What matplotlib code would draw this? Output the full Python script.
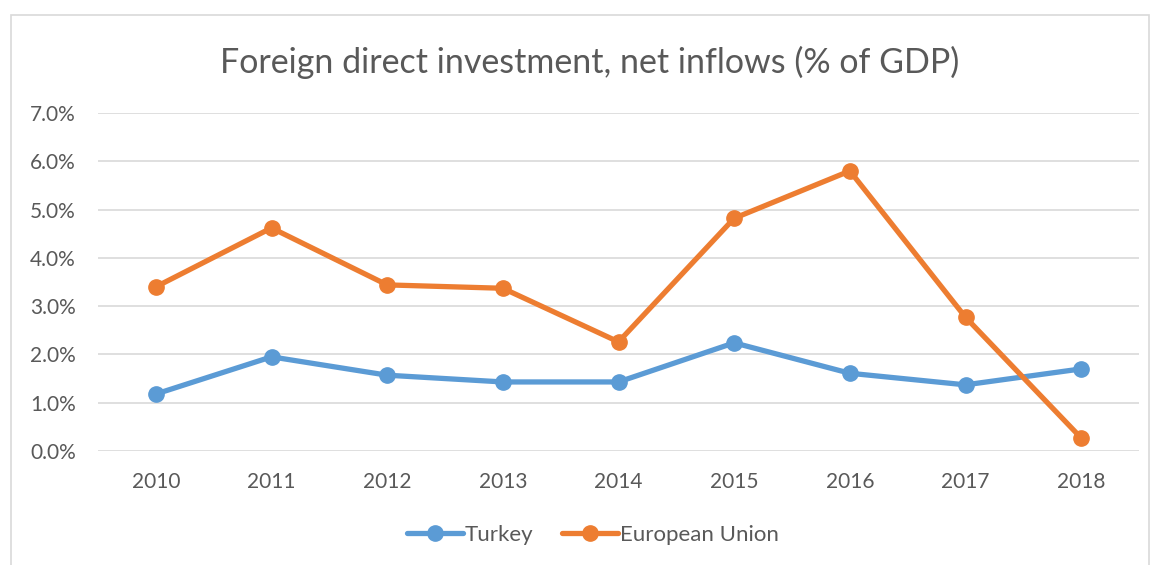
import matplotlib
matplotlib.use("Agg")
import matplotlib.pyplot as plt
from matplotlib.patches import Rectangle
from matplotlib.ticker import FuncFormatter

years = ["2010", "2011", "2012", "2013", "2014", "2015", "2016", "2017", "2018"]
turkey = [1.18, 1.95, 1.57, 1.43, 1.43, 2.24, 1.61, 1.37, 1.70]
eu = [3.40, 4.62, 3.44, 3.37, 2.26, 4.82, 5.80, 2.77, 0.27]
yticks = [0, 1, 2, 3, 4, 5, 6, 7]

plt.rcParams['font.family'] = ['Lato', 'DejaVu Sans']
txt = '#595959'

fig = plt.figure(figsize=(11.56, 5.65), dpi=100)
fig.patches.append(Rectangle((11/1156, -0.1), (1149-11)/1156, 1.1 - 15/565,
                             transform=fig.transFigure, fill=False,
                             edgecolor='#d9d9d9', linewidth=1.2))
ax = fig.add_axes([98/1156, 1-451/565, (1139-98)/1156, (451-113)/565])
x = list(range(len(years)))
ax.plot(x, turkey, color='#5B9BD5', lw=3.8, marker='o', ms=11, label='Turkey',
        solid_capstyle='round', zorder=3)
ax.plot(x, eu, color='#ED7D31', lw=3.8, marker='o', ms=11, label='European Union',
        solid_capstyle='round', zorder=3)
ax.set_xlim(-0.5, len(years) - 0.5)
ax.set_ylim(0, 7)
ax.set_yticks(yticks)
ax.yaxis.set_major_formatter(FuncFormatter(lambda v, p: f"{v:.1f}%"))
ax.set_xticks(x)
ax.set_xticklabels(years)
ax.grid(axis='y', color='#d9d9d9', lw=1.2)
ax.set_axisbelow(True)
for s in ax.spines.values():
    s.set_visible(False)
ax.tick_params(length=0, labelsize=15, colors=txt)
ax.tick_params(axis='x', pad=15)
ax.tick_params(axis='y', pad=16)
fig.text(590/1156, 1-62/565, "Foreign direct investment, net inflows (% of GDP)",
         ha='center', va='center', fontsize=24.5, color=txt)
fig.legend(loc='center', bbox_to_anchor=(593/1156, 1-535/565), ncol=2, frameon=False,
           fontsize=16, labelcolor=txt, handlelength=2.5, handletextpad=0.1,
           columnspacing=1.3)
fig.savefig("out.png", dpi=100)
